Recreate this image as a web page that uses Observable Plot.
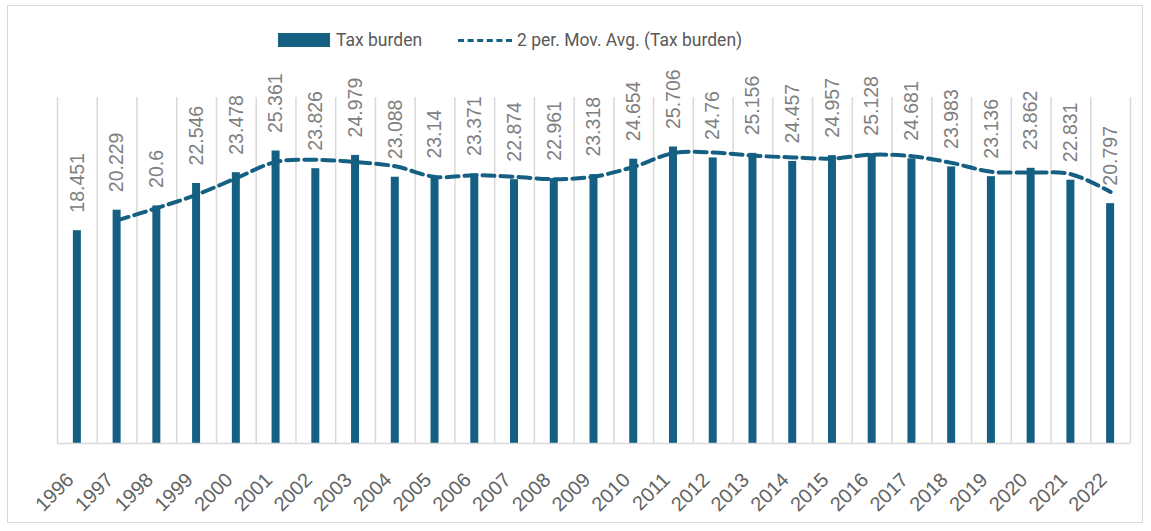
<!DOCTYPE html>
<html>
<head>
<meta charset="utf-8">
<script src="https://cdn.jsdelivr.net/npm/d3@7"></script>
<script src="https://cdn.jsdelivr.net/npm/@observablehq/plot@0.6"></script>
<style>
  html, body { margin: 0; padding: 0; background: #fff; }
  #wrap { position: relative; width: 1151px; height: 531px; overflow: hidden; font-family: Roboto, "Liberation Sans", sans-serif; }
  #frame { position: absolute; left: 7px; top: 5px; width: 1136px; height: 518px; border: 1.5px solid #d9d9d9; box-sizing: border-box; }
  #legend { position: absolute; top: 30px; left: 278px; display: flex; align-items: center; font-size: 17.5px; color: #595959; white-space: nowrap; }
  #legend .sw { display: inline-block; width: 52px; height: 14px; background: #156082; margin-right: 6px; }
  #legend .ln { display: inline-block; width: 54px; height: 0; border-top: 3.5px dashed #156082; margin-left: 36px; margin-right: 5px; }
  #chart { position: absolute; left: 0; top: 0; }
</style>
</head>
<body>
<div id="wrap">
  <div id="frame"></div>
  <div id="chart"></div>
  <div id="legend"><span class="sw"></span><span>Tax burden</span><span class="ln"></span><span>2 per. Mov. Avg. (Tax burden)</span></div>
</div>
<script>
const years = [1996,1997,1998,1999,2000,2001,2002,2003,2004,2005,2006,2007,2008,2009,2010,2011,2012,2013,2014,2015,2016,2017,2018,2019,2020,2021,2022];
const taxBurden = [18.451,20.229,20.6,22.546,23.478,25.361,23.826,24.979,23.088,23.14,23.371,22.874,22.961,23.318,24.654,25.706,24.76,25.156,24.457,24.957,25.128,24.681,23.983,23.136,23.862,22.831,20.797];
const yDomain = [0, 30];

const data = years.map((y, i) => ({year: String(y), value: taxBurden[i]}));
// 2-period moving average (Excel trendline) derived from the series
const movAvg = data.slice(1).map((d, i) => ({year: d.year, value: (d.value + data[i].value) / 2}));

const W = 1151, H = 531;
const mLeft = 57, mRight = 21, mTop = 97, mBottom = 88;
const band = (W - mLeft - mRight) / years.length;
const barW = 8;
const blue = "#156082";
const numFont = "'Liberation Sans', Arial, sans-serif";

const chart = Plot.plot({
  width: W,
  height: H,
  marginLeft: mLeft,
  marginRight: mRight,
  marginTop: mTop,
  marginBottom: mBottom,
  style: {fontFamily: numFont, background: "transparent"},
  x: {type: "band", domain: data.map(d => d.year), padding: 0, round: false, label: null},
  y: {domain: yDomain, axis: null},
  marks: [
    Plot.ruleX(data, {x: "year", y1: 0, y2: yDomain[1], dx: -band / 2, stroke: "#d9d9d9", strokeWidth: 1.5}),
    Plot.ruleX(data.slice(-1), {x: "year", y1: 0, y2: yDomain[1], dx: band / 2, stroke: "#d9d9d9", strokeWidth: 1.5}),
    Plot.barY(data, {x: "year", y: "value", fill: blue, insetLeft: (band - barW) / 2, insetRight: (band - barW) / 2}),
    Plot.ruleY([0], {stroke: "#d9d9d9", strokeWidth: 1.5}),
    Plot.line(movAvg, {x: "year", y: "value", stroke: blue, strokeWidth: 4, strokeDasharray: "12,6", curve: "catmull-rom"}),
    Plot.text(data, {x: "year", y: "value", text: d => String(d.value), rotate: -90, textAnchor: "start", dy: -18, fontSize: 19.5, fill: "#808080"}),
    Plot.axisX({tickSize: 0, tickRotate: -45, tickPadding: 33, dx: -7, fontSize: 20, color: "#636363", label: null, style: {letterSpacing: "1.2px"}})
  ]
});
document.getElementById("chart").appendChild(chart);
</script>
</body>
</html>
